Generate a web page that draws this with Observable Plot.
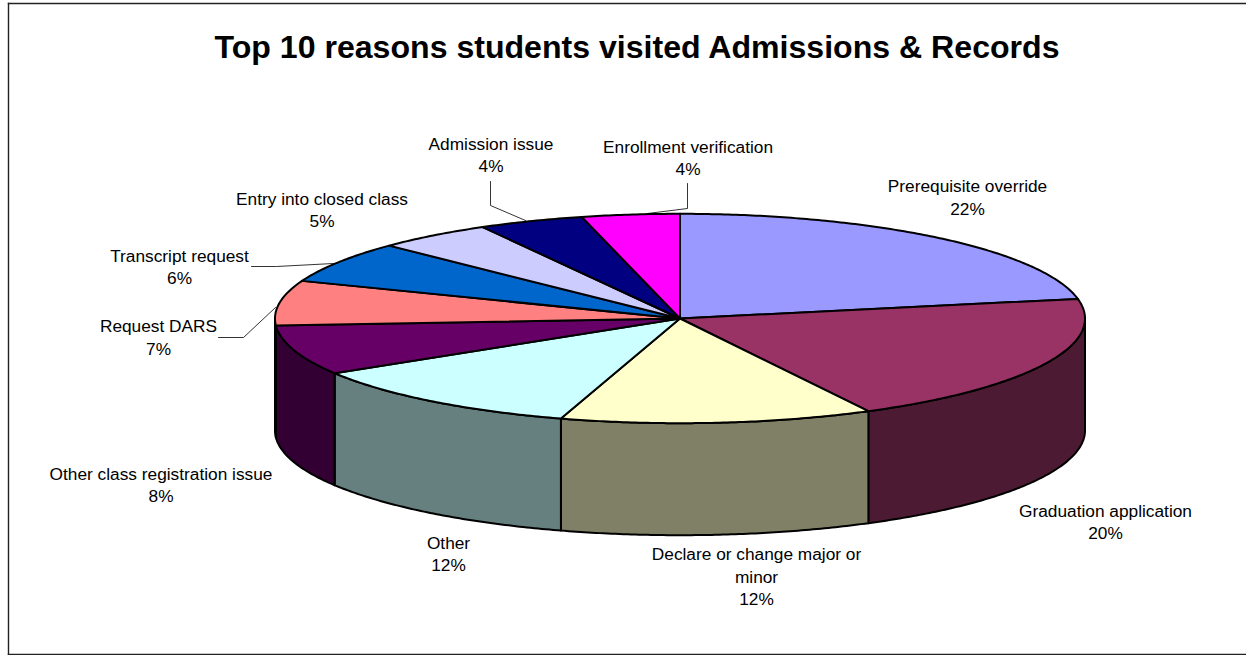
<!DOCTYPE html>
<html>
<head>
<meta charset="utf-8">
<script src="https://cdn.jsdelivr.net/npm/d3@7"></script>
<script src="https://cdn.jsdelivr.net/npm/@observablehq/plot@0.6"></script>
<style>
  html, body { margin: 0; padding: 0; background: #fff; }
  svg { display: block; }
</style>
</head>
<body>
<div id="chart"></div>
<script>
const chartTitle = "Top 10 reasons students visited Admissions & Records";
const categories = [
  "Prerequisite override",
  "Graduation application",
  "Declare or change major or\nminor",
  "Other",
  "Other class registration issue",
  "Request DARS",
  "Transcript request",
  "Entry into closed class",
  "Admission issue",
  "Enrollment verification"
];
// Percent of visits; the labels show these rounded to whole numbers.
const shares = [22.0, 20.3, 12.45, 11.5, 7.7, 6.9, 6.4, 4.65, 4.2, 3.9];
const topColors = ["#9999FF", "#993366", "#FFFFCC", "#CCFFFF", "#660066", "#FF8080", "#0066CC", "#CCCCFF", "#000080", "#FF00FF"];

// Page geometry of the tilted disc, in pixels.
const disc = {cx: 679.5, cy: 318, rx: 405, ry: 104.7, depth: 112};

// Label centres and leader polylines, in pixels.
const labelCentres = [[967, 196], [1105, 520.5], [756, 575], [448, 552.5], [160.5, 483.5], [158, 336], [179, 265.5], [321.5, 208.5], [490.5, 153.5], [687.5, 156.5]];
const leaders = [
  [[251, 266], [276, 266], [333, 263]],
  [[218, 337], [243, 337], [275, 307]],
  [[490, 181], [490, 205], [525, 220]],
  [[687, 183], [687, 208], [647, 213]]
];

// Cumulative start and end angles for each slice, clockwise from twelve o'clock.
const total = d3.sum(shares);
const cumulative = d3.cumsum(shares);
const slices = categories.map((name, i) => {
  const c = d3.rgb(topColors[i]);
  return {
    name,
    share: shares[i],
    color: topColors[i],
    side: d3.rgb(c.r / 2, c.g / 2, c.b / 2).formatHex(),
    start: (cumulative[i] - shares[i]) / total * 2 * Math.PI,
    end: cumulative[i] / total * 2 * Math.PI
  };
});

const rimPoint = (a, drop = 0) => ({u: Math.sin(a), v: Math.cos(a) - drop});
const arc = (a0, a1, drop = 0) => {
  const n = Math.max(2, Math.ceil((a1 - a0) / 0.01));
  return d3.range(n + 1).map((k) => rimPoint(a0 + (a1 - a0) * k / n, drop));
};

// Top-face wedges: centre, then the rim arc.
const topFaces = slices.flatMap((s) =>
  [{u: 0, v: 0}, ...arc(s.start, s.end), {u: 0, v: 0}].map((p) => ({...p, key: s.name, fill: s.color}))
);

// Outer walls exist only on the near half of the disc.
const dropUnits = disc.depth / disc.ry;
const walls = slices.flatMap((s) => {
  const a0 = Math.max(s.start, Math.PI / 2);
  const a1 = Math.min(s.end, 3 * Math.PI / 2);
  if (a1 <= a0) return [];
  const outline = [...arc(a0, a1), ...arc(a0, a1, dropUnits).reverse()];
  return [...outline, outline[0]].map((p) => ({...p, key: s.name, fill: s.side}));
});

const xScale = {type: "linear", domain: [-1, 1], range: [disc.cx - disc.rx, disc.cx + disc.rx]};
const yScale = {type: "linear", domain: [-1, 1], range: [disc.cy + disc.ry, disc.cy - disc.ry]};
const pxToU = (px) => (px - disc.cx) / disc.rx;
const pyToV = (py) => (disc.cy - py) / disc.ry;

const labelRows = slices.map((s, i) => ({
  u: pxToU(labelCentres[i][0]),
  v: pyToV(labelCentres[i][1]),
  text: `${s.name}\n${Math.round(s.share)}%`
}));
const leaderRows = leaders.flatMap((pts, i) =>
  pts.map(([px, py]) => ({u: pxToU(px), v: pyToV(py), key: i}))
);

const chart = Plot.plot({
  width: 1246,
  height: 655,
  marginLeft: 8,
  marginTop: 3,
  marginBottom: 1,
  marginRight: 0,
  x: {...xScale, axis: null},
  y: {...yScale, axis: null},
  style: {background: "#fff", overflow: "hidden"},
  marks: [
    Plot.frame({anchor: "left", stroke: "#222", strokeWidth: 1.4}),
    Plot.frame({anchor: "top", stroke: "#222", strokeWidth: 1.4}),
    Plot.frame({anchor: "bottom", stroke: "#222", strokeWidth: 1.4}),
    Plot.line(walls, {x: "u", y: "v", z: "key", fill: "fill", stroke: "#000", strokeWidth: 2, strokeLinejoin: "round"}),
    Plot.line(topFaces, {x: "u", y: "v", z: "key", fill: "fill", stroke: "#000", strokeWidth: 2, strokeLinejoin: "round"}),
    Plot.line(leaderRows, {x: "u", y: "v", z: "key", stroke: "#000", strokeWidth: 0.8}),
    Plot.text(labelRows, {
      x: "u", y: "v", text: "text",
      fontFamily: "Liberation Sans", fontSize: 17.3, lineHeight: 1.3, fill: "#000"
    }),
    Plot.text([chartTitle], {
      x: pxToU(636.5), y: pyToV(47.5), text: (d) => d,
      fontFamily: "Liberation Sans", fontSize: 32.1, fontWeight: "bold", fill: "#000"
    })
  ]
});
document.getElementById("chart").appendChild(chart);
</script>
</body>
</html>
